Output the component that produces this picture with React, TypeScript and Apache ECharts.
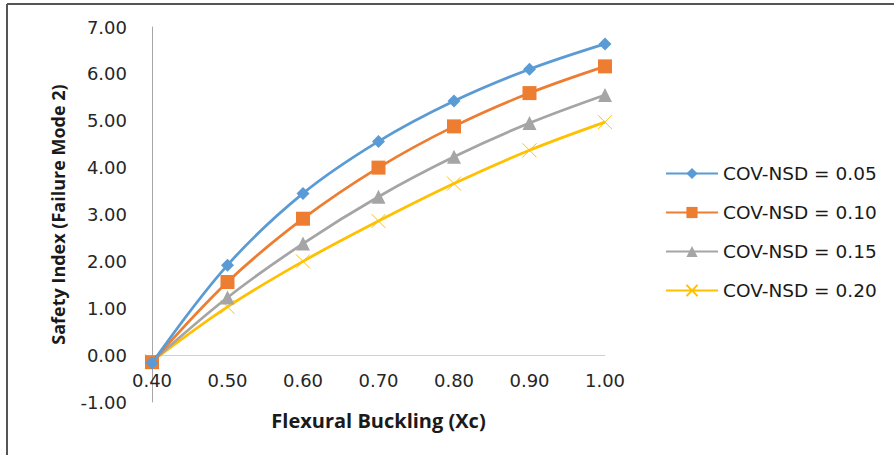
import React, { useEffect, useRef } from "react";
import * as echarts from "echarts";

const xValues = [0.4, 0.5, 0.6, 0.7, 0.8, 0.9, 1.0];
const cov005 = [-0.17, 1.92, 3.45, 4.56, 5.42, 6.1, 6.64];
const cov010 = [-0.15, 1.56, 2.91, 4.0, 4.88, 5.59, 6.16];
const cov015 = [-0.14, 1.23, 2.38, 3.38, 4.23, 4.95, 5.55];
const cov020 = [-0.13, 1.03, 2.0, 2.86, 3.66, 4.37, 4.97];
const seriesNames = ["COV-NSD = 0.05", "COV-NSD = 0.10", "COV-NSD = 0.15", "COV-NSD = 0.20"];
const xTitle = "Flexural Buckling (Xc)";
const yTitle = "Safety Index (Failure Mode 2)";

const colors = ["#5B9BD5", "#ED7D31", "#A5A5A5", "#FFC000"];

export default function App() {
  const ref = useRef<HTMLDivElement>(null);
  useEffect(() => {
    if (!ref.current) return;
    const chart = echarts.init(ref.current, undefined, { renderer: "svg" });
    const all = [cov005, cov010, cov015, cov020];
    const symbols = ["diamond", "rect", "triangle", "path://M0 0L10 10M10 0L0 10"];
    const sizes = [13, 14, 14, 14];
    const series = all.map((vals, i) => ({
      name: seriesNames[i],
      type: "line",
      data: xValues.map((x, j) => [x, vals[j]]),
      smooth: 0.35,
      symbol: symbols[i],
      symbolSize: sizes[i],
      showSymbol: true,
      color: colors[i],
      lineStyle: { color: colors[i], width: 2.75 },
      itemStyle:
        i === 3
          ? { color: "transparent", borderColor: colors[i], borderWidth: 1 }
          : { color: colors[i], borderWidth: 0 },
      z: 10 - i,
    }));
    chart.setOption({
      animation: false,
      backgroundColor: "#ffffff",
      grid: {
        left: 152,
        right: 289,
        top: 27,
        bottom: 53,
        containLabel: false,
        outerBoundsMode: "none",
      },
      legend: {
        orient: "vertical",
        left: 665,
        top: 164,
        padding: 0,
        itemWidth: 52,
        itemHeight: 14,
        itemGap: 20,
        data: seriesNames,
        textStyle: {
          fontFamily: "DejaVu Sans",
          fontSize: 18.5,
          color: "#1a1a1a",
          lineHeight: 18,
        },
      },
      xAxis: {
        type: "value",
        min: 0.4,
        max: 1.0,
        interval: 0.1,
        name: xTitle,
        nameLocation: "middle",
        nameGap: 8,
        nameTextStyle: {
          fontFamily: "Open Sans",
          fontWeight: "bold",
          fontSize: 20,
          color: "#1a1a1a",
        },
        axisLine: {
          show: true,
          onZero: true,
          onZeroAxisIndex: 0,
          lineStyle: { color: "#d0d0d0", width: 1 },
        },
        axisTick: { show: false },
        splitLine: { show: false },
        axisLabel: {
          fontFamily: "DejaVu Sans",
          fontSize: 18,
          color: "#262626",
          margin: -31,
          formatter: (v: number) => v.toFixed(2),
        },
      },
      yAxis: {
        type: "value",
        min: -1,
        max: 7,
        interval: 1,
        name: yTitle,
        nameLocation: "middle",
        nameGap: 85,
        nameRotate: 90,
        nameTextStyle: {
          fontFamily: "Open Sans",
          fontWeight: "bold",
          fontSize: 18,
          color: "#1a1a1a",
        },
        axisLine: { show: true, onZero: false, lineStyle: { color: "#a6a6a6", width: 1 } },
        axisTick: { show: false },
        splitLine: { show: false },
        axisLabel: {
          fontFamily: "DejaVu Sans",
          fontSize: 18,
          color: "#262626",
          margin: 25,
          formatter: (v: number) => v.toFixed(2),
        },
      },
      graphic: [
        { type: "line", shape: { x1: 7, y1: 4, x2: 894, y2: 4 }, style: { stroke: "#555555", lineWidth: 2 } },
        { type: "line", shape: { x1: 7, y1: 4, x2: 7, y2: 455 }, style: { stroke: "#555555", lineWidth: 2 } },
      ],
      series,
    });
    return () => chart.dispose();
  }, []);
  return <div ref={ref} style={{ width: 894, height: 455, position: "absolute", left: 0, top: 0 }} />;
}
